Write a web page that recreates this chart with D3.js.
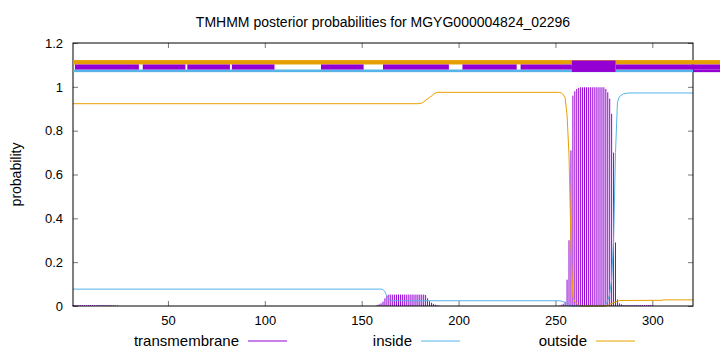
<!DOCTYPE html>
<html>
<head>
<meta charset="utf-8">
<script src="https://cdn.jsdelivr.net/npm/d3@7"></script>
<style>
  body { margin: 0; background: #fff; }
  text { font-family: "Liberation Sans", Arial, sans-serif; fill: #000; }
</style>
</head>
<body>
<div id="chart"></div>
<script>
// chart data
let seqLength = 321;
let xTicks = [50, 100, 150, 200, 250, 300];
let yTicks = [0, 0.2, 0.4, 0.6, 0.8, 1, 1.2];

// transmembrane posterior, one value per residue, starting at the given residue
let tmStartA = 1;
let tmValsA = [0.004, 0.004, 0.004, 0.004, 0.004, 0.004, 0.004, 0.004, 0.004, 0.004, 0.004, 0.004,
  0.004, 0.004, 0.004, 0.004, 0.004, 0.004, 0.004, 0.004, 0.003, 0.003, 0.002, 0.002];
let tmStartB = 158;
let tmValsB = [0.004, 0.008, 0.012, 0.02, 0.035, 0.048, 0.052, 0.052, 0.052, 0.052, 0.052, 0.052,
  0.052, 0.052, 0.052, 0.052, 0.052, 0.052, 0.052, 0.052, 0.052, 0.052, 0.052, 0.052, 0.052, 0.05,
  0.035, 0.022, 0.015, 0.01, 0.006, 0.003, 0.002];
let tmStartC = 252;
let tmValsC = [0.002, 0.005, 0.01, 0.02, 0.12, 0.3, 0.71, 0.96, 0.98, 0.99, 0.995, 0.998, 0.998,
  0.998, 0.998, 0.998, 0.998, 0.998, 0.998, 0.998, 0.998, 0.998, 0.998, 0.998, 0.99, 0.975, 0.946,
  0.877, 0.7, 0.29, 0.03, 0.012, 0.008, 0.004, 0.004, 0.004, 0.004, 0.004, 0.004, 0.004, 0.004,
  0.004, 0.004, 0.004, 0.004, 0.004, 0.004, 0.004, 0.004];

// inside / outside posterior as [residue, probability] points
let insidePts = [[1, 0.077], [160, 0.077], [161, 0.075], [162, 0.065], [163, 0.045], [164, 0.03],
  [165, 0.025], [166, 0.024], [252, 0.024], [254, 0.02], [255, 0.015], [256, 0.008], [257, 0.003],
  [258, 0.001], [259, 0], [275, 0], [276, 0.008], [277, 0.025], [278, 0.055], [279, 0.12],
  [280, 0.3], [281, 0.7], [282, 0.93], [283, 0.955], [285, 0.968], [288, 0.972], [321, 0.972]];
let outsidePts = [[1, 0.923], [179, 0.923], [181, 0.926], [182, 0.93], [183, 0.94], [184, 0.945],
  [185, 0.952], [186, 0.958], [187, 0.966], [188, 0.971], [189, 0.975], [252, 0.975], [253, 0.972],
  [254, 0.965], [255, 0.95], [256, 0.87], [257, 0.69], [258, 0.29], [259, 0.04], [260, 0.02],
  [261, 0.01], [262, 0.003], [263, 0], [276, 0], [277, 0.003], [278, 0.008], [279, 0.012],
  [280, 0.015], [281, 0.018], [282, 0.022], [283, 0.025], [305, 0.026], [306, 0.028], [321, 0.028]];

// topology strip along the top: [from, to] in residues
let stripTm = [[2, 35], [37, 59], [60, 82], [83, 105], [129, 151], [161, 195], [202, 230], [232, 258.5], [281, 336]];
let stripHelix = [258.5, 281];

let colTm = '#9400d3';
let colIn = '#56b4e9';
let colOut = '#e69f00';

// svg setup
let svgWidth = 720;
let svgHeight = 352;
let margin = { top: 43, right: 27, bottom: 46, left: 73 };
let width = svgWidth - margin.left - margin.right;
let height = svgHeight - margin.top - margin.bottom;

let svg = d3.select('#chart').append('svg')
  .attr('width', svgWidth)
  .attr('height', svgHeight);

let chartGroup = svg.append('g')
  .attr('transform', `translate(${margin.left}, ${margin.top})`);

// scales
let xScale = d3.scaleLinear().domain([1, seqLength]).range([0, width]);
let yScale = d3.scaleLinear().domain([0, 1.2]).range([height, 0]);

// title
svg.append('text')
  .attr('x', margin.left + width / 2)
  .attr('y', 27)
  .attr('text-anchor', 'middle')
  .attr('font-size', '14px')
  .text('TMHMM posterior probabilities for MGYG000004824_02296');

// y label
svg.append('text')
  .attr('transform', `translate(21, ${margin.top + height / 2}) rotate(-90)`)
  .attr('text-anchor', 'middle')
  .attr('font-size', '14px')
  .text('probability');

// topology strip (it runs past the right border)
let strip = svg.append('g').attr('transform', `translate(${margin.left}, ${margin.top})`);
strip.append('rect')
  .attr('x', 0).attr('width', svgWidth - margin.left)
  .attr('y', yScale(1.122)).attr('height', yScale(1.102) - yScale(1.122))
  .attr('fill', colOut);
strip.append('rect')
  .attr('x', 0).attr('width', width)
  .attr('y', yScale(1.079)).attr('height', yScale(1.067) - yScale(1.079))
  .attr('fill', colIn);
strip.selectAll('.segTm')
  .data(stripTm)
  .enter()
  .append('rect')
  .classed('segTm', true)
  .attr('x', d => xScale(d[0]))
  .attr('width', d => xScale(d[1]) - xScale(d[0]))
  .attr('y', yScale(1.102))
  .attr('height', yScale(1.079) - yScale(1.102))
  .attr('fill', colTm);
strip.append('rect')
  .attr('x', width).attr('width', svgWidth - margin.left - width)
  .attr('y', yScale(1.079)).attr('height', yScale(1.067) - yScale(1.079))
  .attr('fill', colTm);
strip.append('rect')
  .attr('x', xScale(stripHelix[0]))
  .attr('width', xScale(stripHelix[1]) - xScale(stripHelix[0]))
  .attr('y', yScale(1.12))
  .attr('height', yScale(1.068) - yScale(1.12))
  .attr('fill', colTm);

// transmembrane impulses
let tmData = [];
tmValsA.forEach((v, i) => tmData.push([tmStartA + i, v]));
tmValsB.forEach((v, i) => tmData.push([tmStartB + i, v]));
tmValsC.forEach((v, i) => tmData.push([tmStartC + i, v]));

chartGroup.selectAll('.impulse')
  .data(tmData)
  .enter()
  .append('line')
  .classed('impulse', true)
  .attr('x1', d => xScale(d[0]))
  .attr('x2', d => xScale(d[0]))
  .attr('y1', yScale(0))
  .attr('y2', d => yScale(d[1]))
  .attr('stroke', colTm)
  .attr('stroke-width', 1);

// inside / outside lines
let line = d3.line()
  .x(d => xScale(d[0]))
  .y(d => yScale(d[1]));

chartGroup.append('path')
  .datum(insidePts)
  .attr('d', line)
  .attr('fill', 'none')
  .attr('stroke', colIn)
  .attr('stroke-width', 1);

chartGroup.append('path')
  .datum(outsidePts)
  .attr('d', line)
  .attr('fill', 'none')
  .attr('stroke', colOut)
  .attr('stroke-width', 1);

// axes: ticks point inward and are mirrored
let bottomAxis = d3.axisBottom(xScale).tickValues(xTicks).tickSize(-5).tickPadding(10);
let topAxis = d3.axisTop(xScale).tickValues(xTicks).tickSize(-5).tickFormat('');
let leftAxis = d3.axisLeft(yScale).tickValues(yTicks).tickSize(-5).tickPadding(10).tickFormat(d3.format('~g'));
let rightAxis = d3.axisRight(yScale).tickValues(yTicks).tickSize(-5).tickFormat('');

let xAxis = chartGroup.append('g').attr('transform', `translate(0, ${height})`).call(bottomAxis);
let xAxisTop = chartGroup.append('g').call(topAxis);
let yAxis = chartGroup.append('g').call(leftAxis);
let yAxisRight = chartGroup.append('g').attr('transform', `translate(${width}, 0)`).call(rightAxis);

[xAxis, xAxisTop, yAxis, yAxisRight].forEach(g => {
  g.select('.domain').remove();
  g.selectAll('.tick line').attr('stroke', '#777');
  g.selectAll('.tick text').attr('font-size', '13px').attr('font-family', '"Liberation Sans", Arial, sans-serif');
});

// frame
chartGroup.append('rect')
  .attr('x', 0).attr('y', 0)
  .attr('width', width).attr('height', height)
  .attr('fill', 'none')
  .attr('stroke', '#000')
  .attr('stroke-width', 1);

// legend
let legendItems = [
  { label: 'transmembrane', color: colTm, x: 239 },
  { label: 'inside', color: colIn, x: 412 },
  { label: 'outside', color: colOut, x: 587 }
];
let legend = svg.append('g').attr('transform', 'translate(0, 341)');
legendItems.forEach(item => {
  legend.append('text')
    .attr('x', item.x)
    .attr('y', 5)
    .attr('text-anchor', 'end')
    .attr('font-size', '15px')
    .text(item.label);
  legend.append('line')
    .attr('x1', item.x + 9).attr('x2', item.x + 48)
    .attr('y1', 0).attr('y2', 0)
    .attr('stroke', item.color)
    .attr('stroke-width', 1);
});
</script>
</body>
</html>
